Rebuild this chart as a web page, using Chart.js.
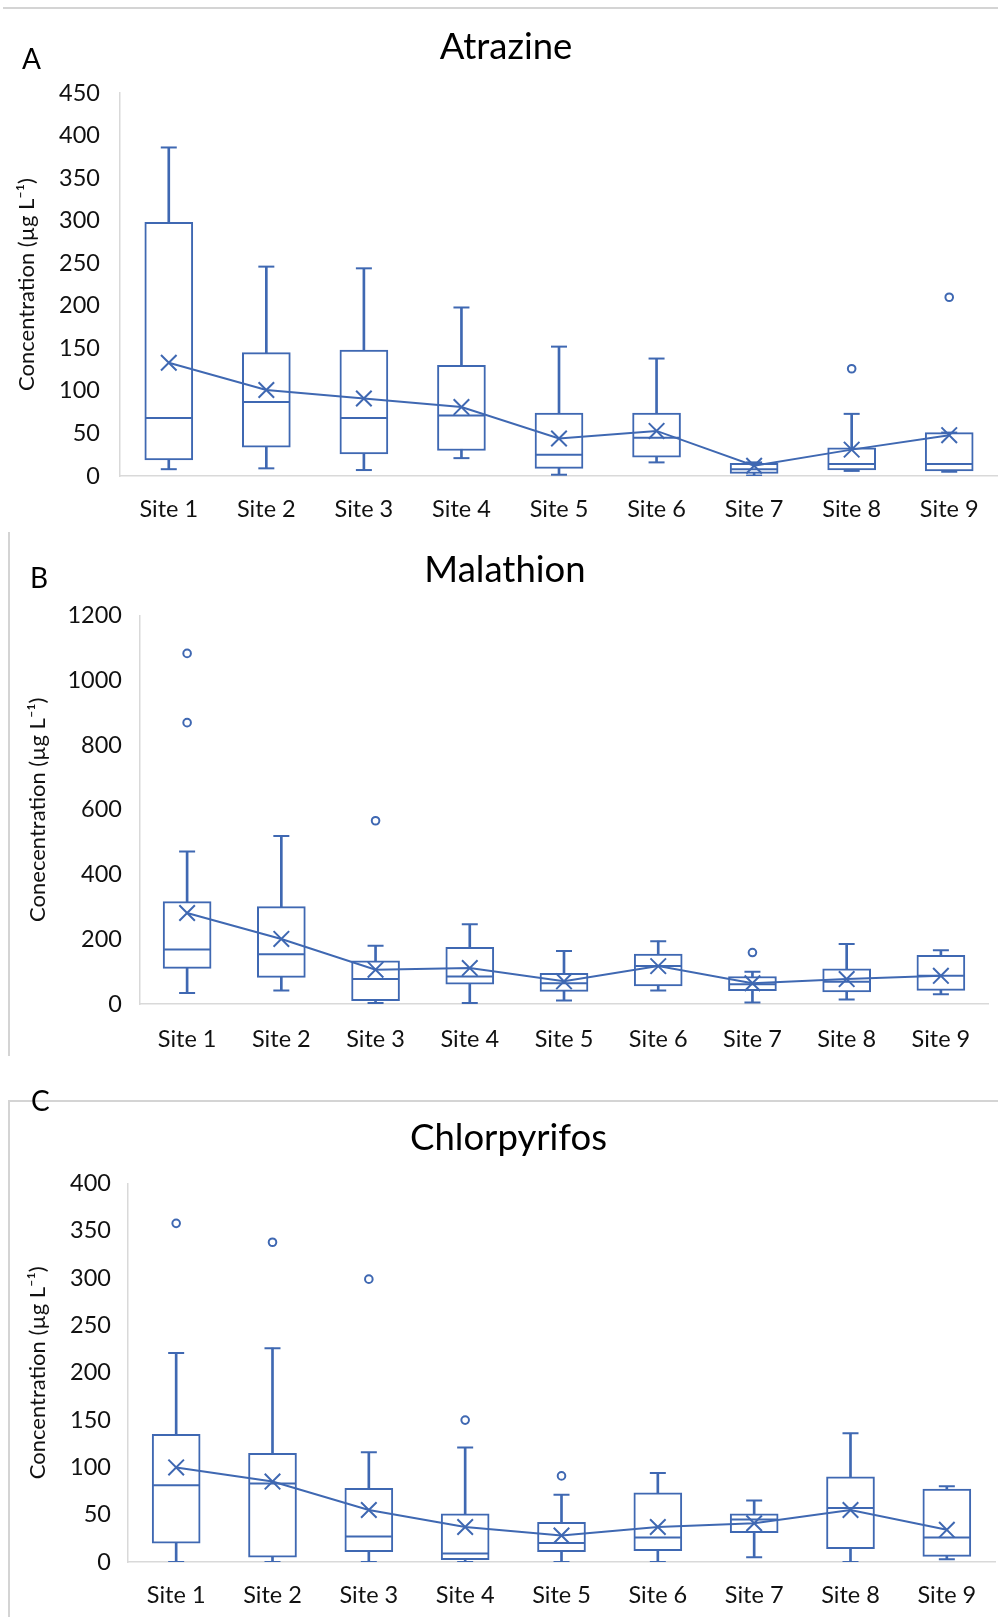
<!DOCTYPE html>
<html>
<head>
<meta charset="utf-8">
<script src="https://cdn.jsdelivr.net/npm/chart.js@4.4.1/dist/chart.umd.min.js"></script>
<style>
  body { margin: 0; background: #fff; }
  #page { position: relative; width: 998px; height: 1617px; overflow: hidden; font-family: Lato, sans-serif; }
  canvas { position: absolute; }
  .rule { position: absolute; background: #d4d4d4; }
  .letter { position: absolute; font-size: 28px; line-height: 1.2; color: #000; }
</style>
</head>
<body>
<div id="page">
  <div class="rule" style="left:3px;top:7px;width:995px;height:1.5px"></div>
  <div class="rule" style="left:8px;top:532px;width:1.5px;height:524px"></div>
  <div class="rule" style="left:8px;top:1100px;width:990px;height:1.5px"></div>
  <div class="rule" style="left:8px;top:1100px;width:1.5px;height:517px"></div>

  <canvas id="chartA" style="left:14px;top:0px" width="984" height="525"></canvas>
  <canvas id="chartB" style="left:22px;top:525px" width="976" height="529"></canvas>
  <canvas id="chartC" style="left:22px;top:1100px" width="976" height="510"></canvas>

  <div class="letter" style="left:22px;top:42px">A</div>
  <div class="letter" style="left:30px;top:561px">B</div>
  <div class="letter" style="left:31px;top:1084px">C</div>
</div>
<script>
const sites = ['Site 1', 'Site 2', 'Site 3', 'Site 4', 'Site 5', 'Site 6', 'Site 7', 'Site 8', 'Site 9'];

// Atrazine
const atrazineMin    = [8, 9, 7, 21, 1.5, 16, 0.5, 6, 5];
const atrazineQ1     = [19, 34, 26, 30, 9, 22, 3, 7, 6];
const atrazineMedian = [68, 87, 68, 71, 25, 45, 8, 14, 14];
const atrazineQ3     = [298, 145, 148, 130, 74, 74, 15, 33, 51];
const atrazineMax    = [386, 246, 244, 198, 152, 138, 16, 73, 51];
const atrazineMean   = [133, 101, 91, 81, 44, 53, 12, 31, 48];
const atrazineOutlierSites  = ['Site 8', 'Site 9'];
const atrazineOutlierValues = [126, 210];
const atrazineTicks = [0, 50, 100, 150, 200, 250, 300, 350, 400, 450];

// Malathion
const malathionMin    = [34, 42, 3, 3, 11, 42, 5, 14, 30];
const malathionQ1     = [110, 82, 10, 61, 39, 56, 41, 37, 42];
const malathionMedian = [168, 154, 77, 85, 64, 117, 61, 69, 87];
const malathionQ3     = [316, 301, 133, 175, 95, 154, 85, 109, 150];
const malathionMax    = [471, 519, 180, 246, 164, 194, 100, 185, 166];
const malathionMean   = [281, 201, 106, 111, 70, 117, 64, 77, 87];
const malathionOutlierSites  = ['Site 1', 'Site 1', 'Site 3', 'Site 7'];
const malathionOutlierValues = [1083, 869, 566, 159];
const malathionTicks = [0, 200, 400, 600, 800, 1000, 1200];

// Chlorpyrifos
const chlorpyrifosMin    = [0, 0, 0, 0, 0, 0, 5, 0, 3];
const chlorpyrifosQ1     = [20, 5, 11, 2.5, 11, 12, 31, 14, 6];
const chlorpyrifosMedian = [81, 83, 27, 9, 20, 26, 45, 57, 26];
const chlorpyrifosQ3     = [135, 115, 78, 51, 42, 73, 51, 90, 77];
const chlorpyrifosMax    = [221, 226, 116, 121, 71, 94, 65, 136, 80];
const chlorpyrifosMean   = [100, 85, 55, 37, 28, 37, 41, 55, 34];
const chlorpyrifosOutlierSites  = ['Site 1', 'Site 2', 'Site 3', 'Site 4', 'Site 5'];
const chlorpyrifosOutlierValues = [358, 338, 299, 150, 91];
const chlorpyrifosTicks = [0, 50, 100, 150, 200, 250, 300, 350, 400];

const BLUE = '#3f68b2';
const AXIS_GREY = '#d9d9d9';
Chart.defaults.font.family = 'Lato, sans-serif';
Chart.defaults.color = '#111';

function boxDatasets(mins, q1s, medians, q3s, maxs, means, outSites, outValues) {
    return [
        {
            type: 'line', data: means, borderColor: BLUE, borderWidth: 2,
            pointStyle: 'crossRot', pointRadius: 11, pointBorderWidth: 2,
            pointBorderColor: BLUE, pointBackgroundColor: BLUE, fill: false, order: 0
        },
        {
            type: 'line', data: outSites.map((s, i) => ({ x: s, y: outValues[i] })),
            showLine: false, pointStyle: 'circle', pointRadius: 3.8, pointBorderWidth: 2,
            pointBorderColor: BLUE, pointBackgroundColor: '#fff', order: 0
        },
        {
            type: 'line', data: medians, showLine: false, pointStyle: 'line',
            pointRadius: 23, pointBorderWidth: 2, pointBorderColor: BLUE, order: 1
        },
        {
            type: 'line', data: maxs, showLine: false, pointStyle: 'line',
            pointRadius: 8, pointBorderWidth: 2, pointBorderColor: BLUE, order: 2
        },
        {
            type: 'line', data: mins, showLine: false, pointStyle: 'line',
            pointRadius: 8, pointBorderWidth: 2, pointBorderColor: BLUE, order: 2
        },
        {
            type: 'bar', data: q1s.map((q, i) => [q, q3s[i]]),
            backgroundColor: '#fff', borderColor: BLUE, borderWidth: 2,
            borderSkipped: false, barThickness: 48, grouped: false, order: 3
        },
        {
            type: 'bar', data: mins.map((m, i) => [m, maxs[i]]),
            backgroundColor: BLUE, borderWidth: 0, barThickness: 2, grouped: false, order: 4
        }
    ];
}

function makeChart(id, title, yTitle, ticks, datasets, lay) {
    const maxTick = ticks[ticks.length - 1];
    return new Chart(document.getElementById(id), {
        type: 'bar',
        data: { labels: sites, datasets: datasets },
        options: {
            responsive: false,
            animation: false,
            layout: { autoPadding: false, padding: { left: 0, right: lay.padRight, top: 0, bottom: 0 } },
            plugins: {
                legend: { display: false },
                tooltip: { enabled: false },
                title: {
                    display: true,
                    text: title,
                    color: '#000',
                    font: { size: 36.5, weight: 'normal' },
                    padding: { top: lay.titleTop, bottom: lay.titleBottom }
                }
            },
            scales: {
                x: {
                    grid: { display: false, drawTicks: false },
                    border: { color: AXIS_GREY, width: 1.5 },
                    ticks: { font: { size: 23.5 }, padding: lay.xPad, maxRotation: 0 },
                    afterFit: s => { s.height = lay.xHeight; s.paddingLeft = 0; s.paddingRight = 0; }
                },
                y: {
                    min: 0,
                    max: maxTick,
                    grid: { display: false, drawTicks: false },
                    border: { color: AXIS_GREY, width: 1.5 },
                    afterBuildTicks: s => { s.ticks = ticks.map(v => ({ value: v })); },
                    ticks: { font: { size: 23.5 }, padding: lay.yPad, callback: v => String(v) },
                    title: {
                        display: true,
                        text: yTitle,
                        font: { size: 22 },
                        color: '#111',
                        padding: { top: lay.yTitlePad, bottom: 0 }
                    },
                    afterFit: s => { s.width = lay.yWidth; s.paddingTop = 0; s.paddingBottom = 0; }
                }
            }
        }
    });
}

makeChart('chartA', 'Atrazine', 'Concentration (µg L\u207B\u00B9)', atrazineTicks,
    boxDatasets(atrazineMin, atrazineQ1, atrazineMedian, atrazineQ3, atrazineMax, atrazineMean,
        atrazineOutlierSites, atrazineOutlierValues),
    { padRight: 0, titleTop: 25, titleBottom: 24.2, xPad: 19, xHeight: 49, yPad: 20, yTitlePad: 0, yWidth: 106 });

makeChart('chartB', 'Malathion', 'Conecentration (µg L\u207B\u00B9)', malathionTicks,
    boxDatasets(malathionMin, malathionQ1, malathionMedian, malathionQ3, malathionMax, malathionMean,
        malathionOutlierSites, malathionOutlierValues),
    { padRight: 10, titleTop: 23, titleBottom: 23.7, xPad: 21, xHeight: 50, yPad: 18, yTitlePad: 3, yWidth: 118 });

makeChart('chartC', 'Chlorpyrifos', 'Concentration (µg L\u207B\u00B9)', chlorpyrifosTicks,
    boxDatasets(chlorpyrifosMin, chlorpyrifosQ1, chlorpyrifosMedian, chlorpyrifosQ3, chlorpyrifosMax, chlorpyrifosMean,
        chlorpyrifosOutlierSites, chlorpyrifosOutlierValues),
    { padRight: 3, titleTop: 16, titleBottom: 23.8, xPad: 19, xHeight: 48, yPad: 17, yTitlePad: 3, yWidth: 106 });
</script>
</body>
</html>
